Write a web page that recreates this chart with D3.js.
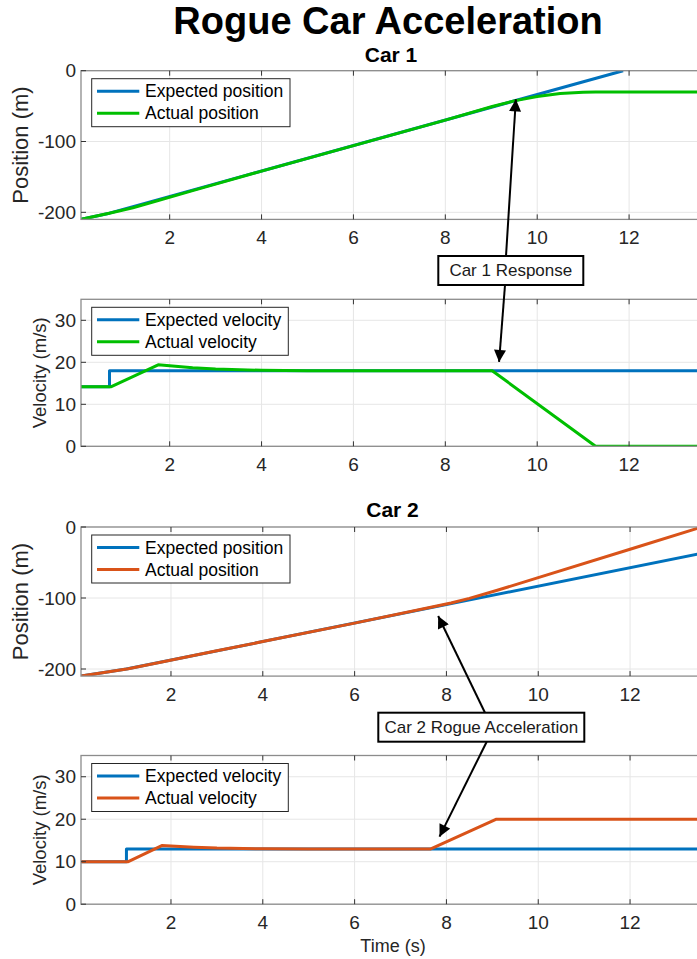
<!DOCTYPE html>
<meta charset="utf-8">
<style>
body {
  margin: 0;
  font-family: "Liberation Sans", Arial, sans-serif;
  background: #fff;
}
.grid line {
  stroke: #e6e6e6;
  stroke-width: 1;
}
.frame {
  fill: none;
  stroke: #8c8c8c;
  stroke-width: 1.3;
}
.tick-mark {
  stroke: #333;
  stroke-width: 1;
}
.tick-label {
  font-size: 19px;
  fill: #262626;
}
.series {
  fill: none;
  stroke-width: 3;
  stroke-linejoin: round;
}
</style>
<body>
<script src="https://cdn.jsdelivr.net/npm/d3@7"></script>
<script>

var width = 697,
    height = 959;

// tick values
var timeTicks = [2, 4, 6, 8, 10, 12];
var positionTicks = [-200, -100, 0];
var velocityTicks = [0, 10, 20, 30];

// car 1 ([time s, value])
var car1ExpectedPosition = [[0.07, -210], [0.69, -201.2], [11.87, 0]];
var car1ActualPosition = [[0.07, -210], [0.71, -200.9], [1.2, -193.5], [1.75, -183.4], [2.5, -169.4],
  [3, -160.2], [4, -141.8], [6, -105.8], [8, -69.8], [9.02, -50.5], [9.5, -42.6], [10, -36.4],
  [10.5, -32.3], [11, -30.3], [11.27, -30], [13.5, -30]];
var car1ExpectedVelocity = [[0.07, 14.2], [0.69, 14.2], [0.69, 18], [13.5, 18]];
var car1ActualVelocity = [[0.07, 14.2], [0.73, 14.2], [1.75, 19.4], [2.5, 18.7], [3, 18.4],
  [4, 18.1], [5, 18], [9.02, 18], [11.27, 0], [13.5, 0]];

// car 2
var car2ExpectedPosition = [[0.04, -210], [1.03, -200], [13.48, -38]];
var car2ActualPosition = [[0.04, -210], [1.07, -199.7], [1.8, -190.2], [3, -174.3], [4, -161.4],
  [6, -135.4], [7.66, -113.1], [8.1, -107.1], [8.5, -100.5], [9.09, -89.5], [10, -71.3],
  [12, -31.3], [13.48, -1.7]];
var car2ExpectedVelocity = [[0.04, 10], [1.03, 10], [1.03, 13], [13.48, 13]];
var car2ActualVelocity = [[0.04, 10], [1.07, 10], [1.8, 13.8], [2.5, 13.4], [3, 13.2],
  [4, 13.05], [5, 13], [7.66, 13], [9.09, 20], [13.48, 20]];

var blue = "#0072bd", green = "#00bf00", orange = "#d95319";

var panels = [
  {top: 70.7, h: 148.7, xd: [0.07, 13.5], yd: [-210, 0], yt: positionTicks, ylabel: "Position (m)", lsize: 22,
   series: [car1ExpectedPosition, car1ActualPosition], colors: [blue, green],
   names: ["Expected position", "Actual position"]},
  {top: 299.3, h: 147, xd: [0.07, 13.5], yd: [0, 35], yt: velocityTicks, ylabel: "Velocity (m/s)", lsize: 18.5,
   series: [car1ExpectedVelocity, car1ActualVelocity], colors: [blue, green],
   names: ["Expected velocity", "Actual velocity"]},
  {top: 527, h: 149.1, xd: [0.04, 13.48], yd: [-210, 0], yt: positionTicks, ylabel: "Position (m)", lsize: 22,
   series: [car2ExpectedPosition, car2ActualPosition], colors: [blue, orange],
   names: ["Expected position", "Actual position"]},
  {top: 755.5, h: 148.7, xd: [0.04, 13.48], yd: [0, 35], yt: velocityTicks, ylabel: "Velocity (m/s)", lsize: 18.5,
   series: [car2ExpectedVelocity, car2ActualVelocity], colors: [blue, orange],
   names: ["Expected velocity", "Actual velocity"]}
];

var left = 81, right = 698;

var svg = d3.select("body").append("svg")
    .attr("width", width)
    .attr("height", height);

svg.append("defs").append("marker")
    .attr("id", "head")
    .attr("viewBox", "0 0 10 10")
    .attr("refX", 10).attr("refY", 5)
    .attr("markerUnits", "userSpaceOnUse")
    .attr("markerWidth", 13).attr("markerHeight", 12)
    .attr("orient", "auto")
  .append("path")
    .attr("d", "M0,0L10,5L0,10Z")
    .attr("fill", "#000");

panels.forEach(function(p, i) {
  p.x = d3.scaleLinear().domain(p.xd).range([left, right]);
  p.y = d3.scaleLinear().domain(p.yd).range([p.top + p.h, p.top]);

  var g = svg.append("g");

  g.append("clipPath").attr("id", "clip" + i)
    .append("rect")
      .attr("x", left).attr("y", p.top)
      .attr("width", right - left).attr("height", p.h);

  var grid = g.append("g").attr("class", "grid");
  grid.selectAll(".gx").data(timeTicks).enter().append("line")
      .attr("x1", p.x).attr("x2", p.x)
      .attr("y1", p.top).attr("y2", p.top + p.h);
  grid.selectAll(".gy").data(p.yt).enter().append("line")
      .attr("x1", left).attr("x2", right)
      .attr("y1", p.y).attr("y2", p.y);

  var line = d3.line()
      .x(function(d) { return p.x(d[0]); })
      .y(function(d) { return p.y(d[1]); });

  g.append("g").attr("clip-path", "url(#clip" + i + ")")
    .selectAll("path").data(p.series).enter().append("path")
      .attr("class", "series")
      .attr("stroke", function(d, j) { return p.colors[j]; })
      .attr("d", line);

  g.append("rect").attr("class", "frame")
      .attr("x", left).attr("y", p.top)
      .attr("width", right - left).attr("height", p.h);

  // ticks inside the box
  g.selectAll(".tb").data(timeTicks).enter().append("line")
      .attr("class", "tick-mark")
      .attr("x1", p.x).attr("x2", p.x)
      .attr("y1", p.top + p.h).attr("y2", p.top + p.h - 5);
  g.selectAll(".tt").data(timeTicks).enter().append("line")
      .attr("class", "tick-mark")
      .attr("x1", p.x).attr("x2", p.x)
      .attr("y1", p.top).attr("y2", p.top + 5);
  g.selectAll(".tl").data(p.yt).enter().append("line")
      .attr("class", "tick-mark")
      .attr("x1", left).attr("x2", left + 5)
      .attr("y1", p.y).attr("y2", p.y);

  g.selectAll(".xl").data(timeTicks).enter().append("text")
      .attr("class", "tick-label")
      .attr("x", p.x)
      .attr("y", p.top + p.h + 18)
      .attr("dy", "0.35em")
      .attr("text-anchor", "middle")
      .text(function(d) { return d; });
  g.selectAll(".yl").data(p.yt).enter().append("text")
      .attr("class", "tick-label")
      .attr("x", left - 5)
      .attr("y", p.y)
      .attr("dy", "0.35em")
      .attr("text-anchor", "end")
      .text(function(d) { return d; });

  var lx = i % 2 === 0 ? 28 : 46;
  g.append("text")
      .attr("transform", "translate(" + lx + "," + (p.top + p.h / 2) + ") rotate(-90)")
      .attr("text-anchor", "middle")
      .attr("font-size", p.lsize)
      .attr("fill", "#262626")
      .text(p.ylabel);

  // legend
  var lg = g.append("g");
  lg.append("rect")
      .attr("x", 91.7).attr("y", p.top + 8)
      .attr("width", i % 2 === 0 ? 198.3 : 196.6).attr("height", 48)
      .attr("fill", "#fff").attr("stroke", "#262626").attr("stroke-width", 1);
  p.names.forEach(function(n, j) {
    var ry = p.top + 20.5 + j * 22;
    lg.append("line")
        .attr("x1", 97).attr("x2", 139.3)
        .attr("y1", ry).attr("y2", ry)
        .attr("stroke", p.colors[j]).attr("stroke-width", 3);
    lg.append("text")
        .attr("x", 145).attr("y", ry)
        .attr("dy", "0.35em")
        .attr("font-size", 17.5)
        .attr("fill", "#000")
        .text(n);
  });
});

// titles
svg.append("text")
    .attr("x", 388).attr("y", 33.5)
    .attr("text-anchor", "middle")
    .attr("font-size", 38).attr("font-weight", "bold")
    .text("Rogue Car Acceleration");
svg.append("text")
    .attr("x", 391).attr("y", 61.5)
    .attr("text-anchor", "middle")
    .attr("font-size", 21).attr("font-weight", "bold")
    .text("Car 1");
svg.append("text")
    .attr("x", 392.5).attr("y", 517)
    .attr("text-anchor", "middle")
    .attr("font-size", 21).attr("font-weight", "bold")
    .text("Car 2");

svg.append("text")
    .attr("x", 393).attr("y", 946)
    .attr("dy", "0.35em")
    .attr("text-anchor", "middle")
    .attr("font-size", 18).attr("fill", "#262626")
    .text("Time (s)");

// annotations: boxes in page space, arrow tips in data space
var notes = [
  {label: "Car 1 Response", box: [438.3, 256, 145, 29],
   arrows: [{from: [506, 256], panel: 0, tip: [9.535, -40.4]},
            {from: [505, 285], panel: 1, tip: [9.17, 20.1]}]},
  {label: "Car 2 Rogue Acceleration", box: [378.3, 712.7, 206, 29],
   arrows: [{from: [485, 712.7], panel: 2, tip: [7.82, -125.4]},
            {from: [486.7, 741.7], panel: 3, tip: [7.85, 15.9]}]}
];

notes.forEach(function(n) {
  n.arrows.forEach(function(a) {
    var p = panels[a.panel];
    svg.append("line")
        .attr("x1", a.from[0]).attr("y1", a.from[1])
        .attr("x2", p.x(a.tip[0])).attr("y2", p.y(a.tip[1]))
        .attr("stroke", "#000").attr("stroke-width", 2)
        .attr("marker-end", "url(#head)");
  });
  svg.append("rect")
      .attr("x", n.box[0]).attr("y", n.box[1])
      .attr("width", n.box[2]).attr("height", n.box[3])
      .attr("fill", "#fff").attr("stroke", "#000").attr("stroke-width", 2);
  svg.append("text")
      .attr("x", n.box[0] + n.box[2] / 2).attr("y", n.box[1] + n.box[3] / 2)
      .attr("dy", "0.35em")
      .attr("text-anchor", "middle")
      .attr("font-size", 17).attr("fill", "#1a1a1a")
      .text(n.label);
});

</script>
